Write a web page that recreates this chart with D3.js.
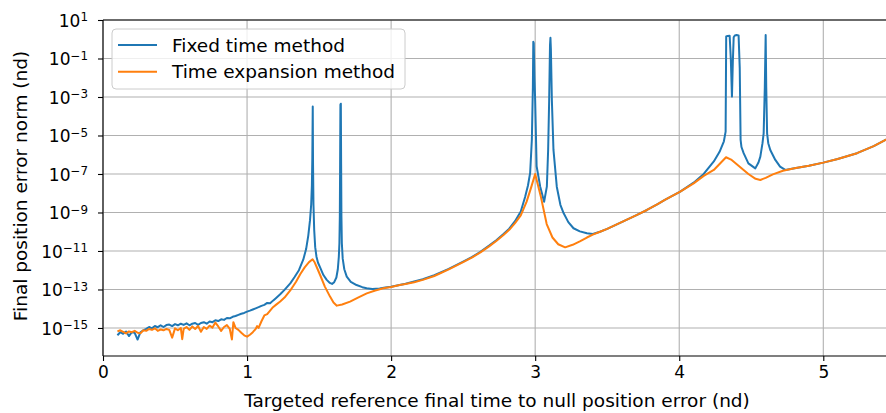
<!DOCTYPE html>
<html>
<head>
<meta charset="utf-8">
<script src="https://cdn.jsdelivr.net/npm/d3@7/dist/d3.min.js"></script>
<style>
  html, body { margin: 0; padding: 0; background: #fff; }
  svg { display: block; font-family: "DejaVu Sans", sans-serif; }
</style>
</head>
<body>
<svg id="chart" width="886" height="413"></svg>
<script>
// ---------------- DATA (y values given as log10 exponents) ----------------
const seriesNames = ["Fixed time method", "Time expansion method"];
const seriesColors = ["#1f77b4", "#ff7f0e"];

const fixedX = [
  0.10,0.12,0.14,0.16,0.18,0.20,0.22,0.24,0.26,0.28,0.30,0.32,0.34,0.36,0.38,0.40,0.42,0.44,0.46,0.48,
  0.50,0.52,0.54,0.56,0.58,0.60,0.62,0.64,0.66,0.68,0.70,0.72,0.74,0.76,0.78,0.80,0.82,0.84,0.86,0.88,
  0.90,0.92,0.94,0.96,0.98,1.00,1.02,1.04,1.06,1.08,1.10,1.12,1.14,1.16,1.18,1.20,1.23,1.26,1.30,1.33,
  1.36,1.39,1.41,1.425,1.437,1.445,1.45,1.453,1.456,1.458,1.461,1.466,1.473,1.482,1.492,1.507,1.53,1.553,1.575,1.59,
  1.605,1.62,1.63,1.637,1.641,1.644,1.646,1.648,1.651,1.653,1.655,1.658,1.664,1.675,1.692,1.72,1.76,1.80,1.83,1.87,
  1.92,1.96,2.00,2.05,2.10,2.16,2.22,2.30,2.40,2.50,2.56,2.62,2.68,2.73,2.78,2.82,2.86,2.90,2.93,2.95,
  2.965,2.977,2.984,2.987,2.99,2.995,3.00,3.01,3.035,3.062,3.081,3.09,3.097,3.103,3.106,3.109,3.116,3.127,3.15,3.175,
  3.197,3.23,3.266,3.31,3.359,3.40,3.45,3.50,3.60,3.70,3.776,3.85,3.90,4.007,4.10,4.17,4.24,4.28,4.31,4.322,
  4.326,4.335,4.35,4.358,4.366,4.372,4.378,4.386,4.398,4.412,4.42,4.426,4.432,4.447,4.48,4.528,4.55,4.563,4.578,4.586,
  4.594,4.600,4.604,4.610,4.618,4.632,4.667,4.70,4.736,4.80,4.90,5.00,5.10,5.234,5.35,5.47
];
const fixedLog = [
  -15.38,-15.22,-15.30,-15.18,-15.42,-15.22,-15.25,-15.60,-15.22,-15.12,-15.05,-14.95,-15.02,-14.90,-14.96,-14.86,-14.95,-14.85,-14.82,-14.90,
  -14.80,-14.86,-14.78,-14.84,-14.76,-14.86,-14.78,-14.74,-14.84,-14.74,-14.70,-14.78,-14.66,-14.70,-14.60,-14.64,-14.55,-14.58,-14.48,-14.50,
  -14.42,-14.38,-14.32,-14.26,-14.22,-14.15,-14.10,-14.04,-13.98,-13.92,-13.85,-13.80,-13.70,-13.72,-13.58,-13.45,-13.25,-13.02,-12.68,-12.35,
  -12.00,-11.45,-10.90,-10.20,-9.40,-8.60,-7.60,-6.20,-3.50,-6.50,-8.60,-9.90,-10.80,-11.30,-11.60,-11.85,-12.25,-12.50,-12.66,-12.71,
  -12.62,-12.38,-11.95,-11.30,-10.60,-9.20,-6.50,-3.40,-3.35,-6.50,-9.20,-10.60,-11.40,-11.95,-12.33,-12.60,-12.77,-12.88,-12.94,-12.97,
  -12.95,-12.90,-12.86,-12.78,-12.70,-12.59,-12.47,-12.26,-11.93,-11.55,-11.32,-11.04,-10.72,-10.44,-10.12,-9.84,-9.45,-8.95,-8.20,-7.60,
  -6.95,-5.20,-2.50,-0.13,-0.20,-2.00,-3.20,-6.60,-7.66,-8.44,-7.66,-5.75,-3.20,-0.30,0.08,-0.50,-3.20,-5.75,-7.66,-8.60,
  -9.03,-9.50,-9.82,-9.98,-10.08,-10.12,-10.00,-9.85,-9.50,-9.15,-8.87,-8.57,-8.35,-7.92,-7.45,-7.00,-6.35,-5.85,-5.30,-4.80,
  0.15,0.17,0.18,-1.00,-2.98,-1.20,0.10,0.20,0.22,0.20,-1.50,-5.23,-5.60,-5.92,-6.45,-6.71,-6.40,-6.10,-5.40,-4.89,
  -2.50,0.22,-2.50,-4.89,-5.40,-5.75,-6.27,-6.62,-6.79,-6.70,-6.57,-6.41,-6.22,-5.92,-5.55,-5.08
];

const expansionX = [
  0.10,0.12,0.14,0.16,0.18,0.20,0.22,0.24,0.26,0.28,0.30,0.32,0.34,0.36,0.38,0.40,0.42,0.44,0.46,0.48,
  0.50,0.52,0.54,0.55,0.56,0.58,0.60,0.62,0.64,0.66,0.68,0.70,0.72,0.74,0.76,0.78,0.80,0.82,0.84,0.86,
  0.88,0.895,0.905,0.92,0.94,0.96,0.98,1.00,1.02,1.04,1.06,1.07,1.08,1.10,1.12,1.14,1.16,1.18,1.20,1.23,
  1.26,1.30,1.34,1.37,1.40,1.43,1.455,1.47,1.49,1.51,1.54,1.576,1.60,1.623,1.66,1.715,1.77,1.831,1.89,1.946,
  2.00,2.06,2.10,2.16,2.22,2.30,2.40,2.50,2.56,2.62,2.68,2.73,2.78,2.82,2.86,2.90,2.94,2.97,3.00,3.02,
  3.04,3.08,3.12,3.16,3.208,3.26,3.31,3.359,3.40,3.45,3.50,3.60,3.70,3.776,3.85,3.90,4.007,4.10,4.17,4.24,
  4.29,4.325,4.36,4.42,4.48,4.53,4.563,4.60,4.65,4.72,4.80,4.90,5.00,5.10,5.234,5.35,5.47
];
const expansionLog = [
  -15.18,-15.12,-15.20,-15.28,-15.18,-15.22,-15.15,-15.25,-15.28,-15.12,-15.15,-15.05,-15.10,-15.02,-15.15,-15.08,-15.12,-15.05,-15.10,-15.50,
  -15.02,-15.12,-15.00,-15.58,-15.05,-14.95,-15.10,-14.92,-15.05,-14.90,-15.20,-14.95,-15.05,-14.88,-14.98,-14.72,-14.92,-15.15,-14.95,-14.85,
  -15.05,-15.60,-14.70,-15.00,-15.10,-15.25,-15.38,-15.45,-15.35,-15.22,-15.05,-14.90,-15.00,-14.65,-14.35,-14.28,-14.10,-13.92,-13.80,-13.62,
  -13.42,-13.05,-12.60,-12.20,-11.85,-11.58,-11.43,-11.60,-11.95,-12.30,-12.85,-13.37,-13.68,-13.84,-13.78,-13.63,-13.42,-13.20,-13.05,-12.94,
  -12.87,-12.77,-12.72,-12.62,-12.50,-12.30,-11.96,-11.58,-11.35,-11.07,-10.76,-10.48,-10.17,-9.90,-9.55,-9.15,-8.45,-7.75,-7.00,-7.60,
  -8.20,-9.60,-10.30,-10.65,-10.81,-10.68,-10.50,-10.30,-10.15,-10.00,-9.85,-9.50,-9.15,-8.87,-8.57,-8.35,-7.92,-7.49,-7.10,-6.79,
  -6.40,-6.13,-6.25,-6.62,-7.00,-7.25,-7.31,-7.20,-7.02,-6.83,-6.70,-6.57,-6.41,-6.22,-5.92,-5.55,-5.08
];

const xTicks = [0, 1, 2, 3, 4, 5];
const yTickExps = [1, -1, -3, -5, -7, -9, -11, -13, -15];
const xLabel = "Targeted reference final time to null position error (nd)";
const yLabel = "Final position error norm (nd)";

// ---------------- LAYOUT ----------------
const svg = d3.select("#chart");
const L = 103, T = 20, B = 356, R = 891;
const FS = 17;     // tick labels
const FL = 18.5;   // axis labels and legend

const x = d3.scaleLinear().domain([0, 5.47]).range([L, R]);
const y = d3.scaleLog().domain([Math.pow(10, -16.456), 10]).range([B, T]);

const series = [
  { name: seriesNames[0], color: seriesColors[0], pts: fixedX.map((v, i) => [v, Math.pow(10, fixedLog[i])]) },
  { name: seriesNames[1], color: seriesColors[1], pts: expansionX.map((v, i) => [v, Math.pow(10, expansionLog[i])]) }
];

// grid
const grid = svg.append("g");
grid.selectAll("line.gx").data(xTicks).enter().append("line")
  .attr("x1", d => x(d)).attr("x2", d => x(d)).attr("y1", T).attr("y2", B)
  .attr("stroke", "#b0b0b0").attr("stroke-width", 1.1);
grid.selectAll("line.gy").data(yTickExps).enter().append("line")
  .attr("x1", L).attr("x2", R).attr("y1", d => y(Math.pow(10, d))).attr("y2", d => y(Math.pow(10, d)))
  .attr("stroke", "#b0b0b0").attr("stroke-width", 1.1);

// clip
svg.append("clipPath").attr("id", "clip").append("rect")
  .attr("x", L).attr("y", T).attr("width", R - L).attr("height", B - T);

const line = d3.line().x(d => x(d[0])).y(d => y(d[1]));
const lines = svg.append("g").attr("clip-path", "url(#clip)");
series.forEach(s => {
  lines.append("path").attr("d", line(s.pts)).attr("fill", "none")
    .attr("stroke", s.color).attr("stroke-width", 2).attr("stroke-linejoin", "round");
});

// axes
const xAxis = d3.axisBottom(x).tickValues(xTicks).tickFormat(d3.format("d")).tickSize(5).tickPadding(5);
const gx = svg.append("g").attr("transform", `translate(0,${B})`).call(xAxis);
gx.select(".domain").remove();
gx.selectAll("text").attr("font-size", FS).attr("font-family", "DejaVu Sans").attr("fill", "#000");
gx.selectAll("line").attr("stroke", "#000").attr("stroke-width", 1.1);

const yAxis = d3.axisLeft(y).tickValues(yTickExps.map(e => Math.pow(10, e))).tickFormat("").tickSize(5);
const gy = svg.append("g").attr("transform", `translate(${L},0)`).call(yAxis);
gy.select(".domain").remove();
gy.selectAll("line").attr("stroke", "#000").attr("stroke-width", 1.1);
const minus = "\u2212";
gy.selectAll(".tick").each(function(d) {
  const e = Math.round(Math.log10(d));
  const t = d3.select(this).append("text")
    .attr("x", -15).attr("y", 0).attr("dy", "0.36em")
    .attr("text-anchor", "end").attr("font-size", FS).attr("font-family", "DejaVu Sans").attr("fill", "#000");
  t.append("tspan").text("10");
  t.append("tspan").attr("dy", "-0.45em").attr("font-size", FS * 0.7)
    .text(e < 0 ? minus + Math.abs(e) : String(e));
});

// spines
svg.append("line").attr("x1", L).attr("x2", L).attr("y1", T).attr("y2", B).attr("stroke", "#000").attr("stroke-width", 1.1);
svg.append("line").attr("x1", L).attr("x2", R).attr("y1", B).attr("y2", B).attr("stroke", "#000").attr("stroke-width", 1.1);
svg.append("line").attr("x1", L).attr("x2", R).attr("y1", T).attr("y2", T).attr("stroke", "#000").attr("stroke-width", 1.1);

// labels
svg.append("text").attr("x", (L + R) / 2).attr("y", 407).attr("text-anchor", "middle")
  .attr("font-size", FL).attr("fill", "#000").text(xLabel);
svg.append("text").attr("transform", `translate(27,${(T + B) / 2 - 2}) rotate(-90)`).attr("text-anchor", "middle")
  .attr("font-size", FL).attr("fill", "#000").text(yLabel);

// legend
const lg = svg.append("g");
lg.append("rect").attr("x", 112).attr("y", 29).attr("width", 293).attr("height", 60).attr("rx", 4)
  .attr("fill", "#fff").attr("fill-opacity", 0.8).attr("stroke", "#cccccc").attr("stroke-width", 1);
series.forEach((s, i) => {
  const yy = 45 + i * 26.7;
  lg.append("line").attr("x1", 118).attr("x2", 157).attr("y1", yy).attr("y2", yy)
    .attr("stroke", s.color).attr("stroke-width", 2);
  lg.append("text").attr("x", 172).attr("y", yy).attr("dy", "0.36em")
    .attr("font-size", FL).attr("fill", "#000").text(s.name);
});
</script>
</body>
</html>
